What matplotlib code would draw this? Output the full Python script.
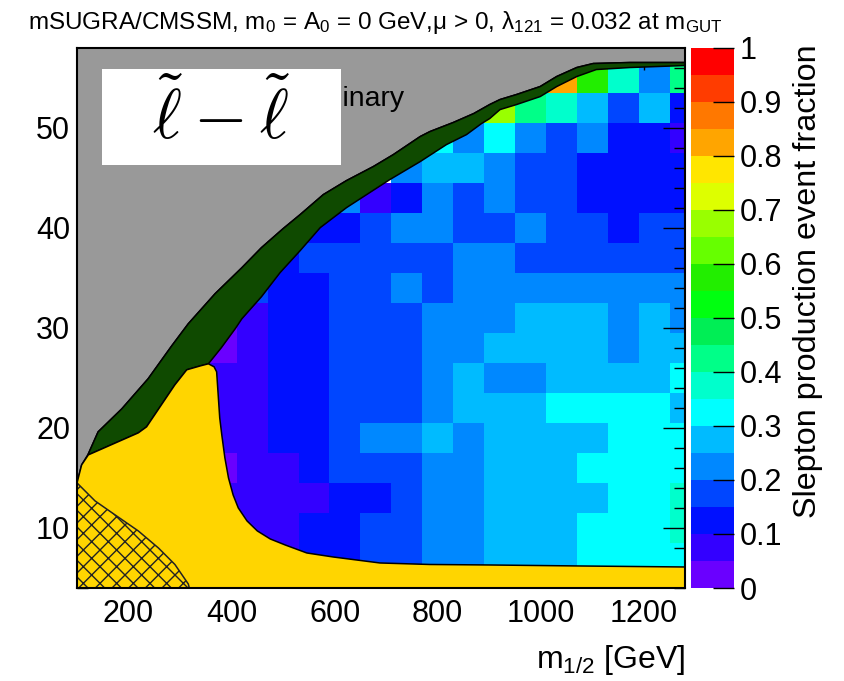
import numpy as np
import matplotlib
matplotlib.use("Agg")
import matplotlib.pyplot as plt
from matplotlib.colors import ListedColormap, BoundaryNorm
from matplotlib.patches import Polygon, Rectangle

plt.rcParams['font.family'] = ['Liberation Sans', 'DejaVu Sans']
plt.rcParams['mathtext.fontset'] = 'custom'
plt.rcParams['mathtext.rm'] = 'Liberation Sans'
plt.rcParams['mathtext.it'] = 'Liberation Sans:italic'
plt.rcParams['hatch.linewidth'] = 1.0

n = np.nan
# m_1/2 bin centres (GeV) and tan(beta) bin centres
m_half = [140, 200, 260, 320, 380, 440, 500, 560, 620, 680, 740, 800, 860, 920, 980, 1040, 1100, 1160, 1220, 1280]
tanb = [4, 7, 10, 13, 16, 19, 22, 25, 28, 31, 34, 37, 40, 43, 46, 49, 52, 55]

# slepton production event fraction, one list per tan(beta) row
r55 = [n, n, n, n, n, n, n, n, n, n, n, n, n, n, .425, .825, .575, .375, .225, .425]
r52 = [n, n, n, n, n, n, n, n, n, n, n, n, n, .675, .425, .375, .275, .175, .275, .125]
r49 = [n, n, n, n, n, n, n, n, n, n, n, .325, .225, .325, .225, .175, .225, .125, .125, .075]
r46 = [n, n, n, n, n, n, n, n, n, n, .225, .275, .275, .225, .175, .175, .125, .125, .125, .125]
r43 = [n, n, n, n, n, n, n, n, .225, .075, .125, .225, .175, .225, .175, .175, .125, .125, .125, .125]
r40 = [n, n, n, n, n, n, n, .125, .125, .175, .225, .225, .175, .175, .225, .175, .175, .125, .175, .175]
r37 = [n, n, n, n, n, n, .125, .175, .175, .175, .175, .175, .225, .225, .175, .175, .175, .175, .175, .175]
r34 = [n, n, n, n, n, .175, .125, .125, .175, .175, .225, .175, .225, .225, .225, .225, .225, .225, .225, .225]
r31 = [n, n, n, n, .025, .075, .125, .125, .175, .175, .175, .225, .225, .225, .275, .275, .275, .225, .275, .225]
r28 = [n, n, n, n, .025, .075, .125, .125, .175, .175, .175, .225, .225, .275, .275, .275, .275, .225, .275, .275]
r25 = [n, n, n, n, .075, .075, .125, .125, .175, .175, .175, .225, .275, .225, .225, .275, .275, .275, .275, .325]
r22 = [n, n, n, n, .075, .075, .125, .125, .175, .175, .175, .225, .275, .275, .275, .325, .325, .325, .325, .275]
r19 = [n, n, n, n, .075, .075, .125, .125, .175, .225, .225, .275, .225, .275, .275, .275, .275, .325, .325, .325]
r16 = [n, n, n, n, .025, .075, .075, .125, .175, .175, .175, .225, .225, .275, .275, .275, .325, .325, .325, .325]
r13 = [n, n, n, n, .075, .075, .075, .075, .125, .125, .175, .225, .225, .275, .275, .275, .275, .325, .325, .375]
r10 = [n, n, n, n, .075, .075, .075, .125, .125, .175, .175, .225, .225, .275, .275, .275, .325, .325, .325, .375]
r7 = [n, n, n, n, .075, .075, .075, .125, .125, .175, .175, .225, .225, .275, .275, .275, .325, .325, .325, .325]
r4 = [n, n, n, n, .075, .075, .075, .125, .125, .175, .175, .225, .225, .275, .275, .275, .325, .325, .325, .325]

# region contours (m_1/2, tan beta)
gray_edge_x = [100, 109, 122, 141, 187, 238, 284, 316, 368, 420, 458, 500, 533, 578, 623, 675, 714, 766, 785, 830, 870, 901, 921, 953, 999, 1031, 1070, 1102, 1173, 1280]
gray_edge_y = [14.5, 16.3, 17.4, 19.6, 21.9, 24.9, 28.2, 30.4, 33.4, 36.0, 38.0, 39.9, 41.3, 43.3, 44.7, 46.1, 47.3, 49.1, 49.6, 50.5, 51.4, 52.3, 52.8, 53.3, 54.1, 55.1, 56.0, 56.4, 56.5, 56.5]
green_low_x = [355, 380, 407, 420, 458, 494, 533, 572, 623, 662, 707, 766, 817, 856, 885, 901, 921, 953, 999, 1031, 1070, 1108, 1173, 1280]
green_low_y = [26.4, 28.0, 29.9, 30.9, 33.1, 35.5, 37.7, 40.0, 42.0, 43.3, 44.8, 46.6, 48.3, 49.3, 50.4, 50.9, 51.8, 52.3, 53.1, 54.1, 55.1, 55.8, 56.0, 56.2]
yellow_top_x = [122, 219, 235, 290, 313, 340, 355]
yellow_top_y = [17.3, 19.5, 20.1, 24.3, 25.8, 26.2, 26.4]
yellow_edge_x = [355, 366, 371, 374, 377, 381, 387, 394, 403, 413, 430, 450, 475, 504, 546, 597, 688, 785, 901, 1076, 1280]
yellow_edge_y = [26.4, 26.1, 25.6, 23.3, 21.0, 19.3, 17.0, 15.0, 13.3, 12.0, 10.7, 9.7, 8.9, 8.3, 7.5, 7.1, 6.5, 6.35, 6.3, 6.2, 6.1]
hatch_x = [100, 135, 174, 219, 258, 290, 316, 318]
hatch_y = [14.5, 12.7, 11.3, 9.7, 8.0, 6.35, 4.4, 4.0]

palette = ['#6a00ff', '#3300ff', '#0010ff', '#0046ff', '#0088ff', '#00bbff', '#00ffff',
           '#00ffcc', '#00ff88', '#00ee55', '#00ff10', '#22ee00', '#66ff00', '#99ff00',
           '#ddff00', '#ffe600', '#ffa500', '#ff7800', '#ff3c00', '#ff0000']

fig = plt.figure(figsize=(8.45, 6.81), dpi=100)
L, B, W, H = 77/845, 1-588/681, (685-77)/845, (588-47.5)/681
ax = fig.add_axes([L, B, W, H])
cax = fig.add_axes([691/845, B, 43/845, H])

Z = np.ma.masked_invalid(np.array([r4, r7, r10, r13, r16, r19, r22, r25, r28, r31, r34, r37, r40, r43, r46, r49, r52, r55]))
xc = np.array(m_half, float)
yc = np.array(tanb, float)
xe = np.concatenate([xc - 30, [xc[-1] + 30]])
ye = np.concatenate([yc - 1.5, [yc[-1] + 1.5]])
cmap = ListedColormap(palette)
norm = BoundaryNorm(np.linspace(0, 1, 21), 20)
mesh = ax.pcolormesh(xe, ye, Z, cmap=cmap, norm=norm, zorder=1)

# gray region
gray_pts = [(100, 58), (1280, 58)] + list(zip(gray_edge_x[::-1], gray_edge_y[::-1]))
ax.add_patch(Polygon(gray_pts, closed=True, facecolor='#999999', edgecolor='black', lw=1.1, zorder=3))
# dark green band
gi = gray_edge_x.index(122)
green_pts = list(zip(gray_edge_x[gi:], gray_edge_y[gi:])) + list(zip(green_low_x[::-1], green_low_y[::-1])) + \
    list(zip(yellow_top_x[::-1], yellow_top_y[::-1]))
ax.add_patch(Polygon(green_pts, closed=True, facecolor='#0f4a00', edgecolor='black', lw=1.1, zorder=3))
# yellow region
yel_pts = [(100, 3.5), (100, 14.5), (109, 16.3)] + list(zip(yellow_top_x, yellow_top_y)) + \
    list(zip(yellow_edge_x[1:], yellow_edge_y[1:])) + [(1285, 6.1), (1285, 3.5)]
ax.add_patch(Polygon(yel_pts, closed=True, facecolor='#ffd500', edgecolor='black', lw=1.1, zorder=3))
# hatched region
hat_pts = list(zip(hatch_x, hatch_y)) + [(100, 4.0)]
ax.add_patch(Polygon(hat_pts, closed=True, facecolor='none', edgecolor='#222222', hatch='xx', lw=1.1, zorder=4))

ax.set_xlim(100, 1280)
ax.set_ylim(4, 58)
ax.set_xticks([200, 400, 600, 800, 1000, 1200])
ax.set_xticks(np.arange(150, 1280, 50), minor=True)
ax.set_yticks([10, 20, 30, 40, 50])
ax.set_yticks(np.arange(4, 58.1, 2), minor=True)
ax.tick_params(which='both', direction='in', top=True, right=True, width=1.0, labelsize=22, zorder=10)
ax.tick_params(which='major', length=16)
ax.tick_params(which='minor', length=8)
ax.tick_params(axis='x', pad=8)
ax.tick_params(axis='y', pad=5)
for s in ax.spines.values():
    s.set_linewidth(1.5)
    s.set_zorder(10)
ax.set_axisbelow(False)

# Preliminary text partly hidden behind the label box
ax.text(405/845, 1-106/681, 'Preliminary', transform=fig.transFigure, ha='right', va='baseline',
        fontsize=20.5, zorder=5)
ax.add_patch(Rectangle((102/845, 1-164.5/681), (341-102)/845, (164.5-69)/681, transform=fig.transFigure,
                       facecolor='white', edgecolor='none', zorder=6))
ax.text(221/845, 1-118/681, r'$\tilde{\ell}-\tilde{\ell}$', transform=fig.transFigure, ha='center', va='center',
        fontsize=50, math_fontfamily='cm', zorder=7)

cb = fig.colorbar(mesh, cax=cax, ticks=np.linspace(0, 1, 11))
cb.outline.set_visible(False)
cb.ax.set_yticklabels(['0', '0.1', '0.2', '0.3', '0.4', '0.5', '0.6', '0.7', '0.8', '0.9', '1'])
cax.set_axisbelow(False)
cax.tick_params(direction='in', length=15, width=1.0, color='black', labelsize=22, right=True, left=False, pad=4)
cax.minorticks_off()

fig.text(808/845, 1-44/681, 'Slepton production event fraction', rotation=90, ha='center', va='top', fontsize=23.3)
fig.text(685/845, 1-660/681, r'm$_{1/2}$ [GeV]', ha='right', va='center', fontsize=23)
fig.text(28/845, 1-22/681, r'mSUGRA/CMSSM, m$_{0}$ = A$_{0}$ = 0 GeV,μ > 0, λ$_{121}$ = 0.032 at m$_{\rm GUT}$',
         ha='left', va='center', fontsize=17.5)

fig.savefig('out.png', dpi=100)
